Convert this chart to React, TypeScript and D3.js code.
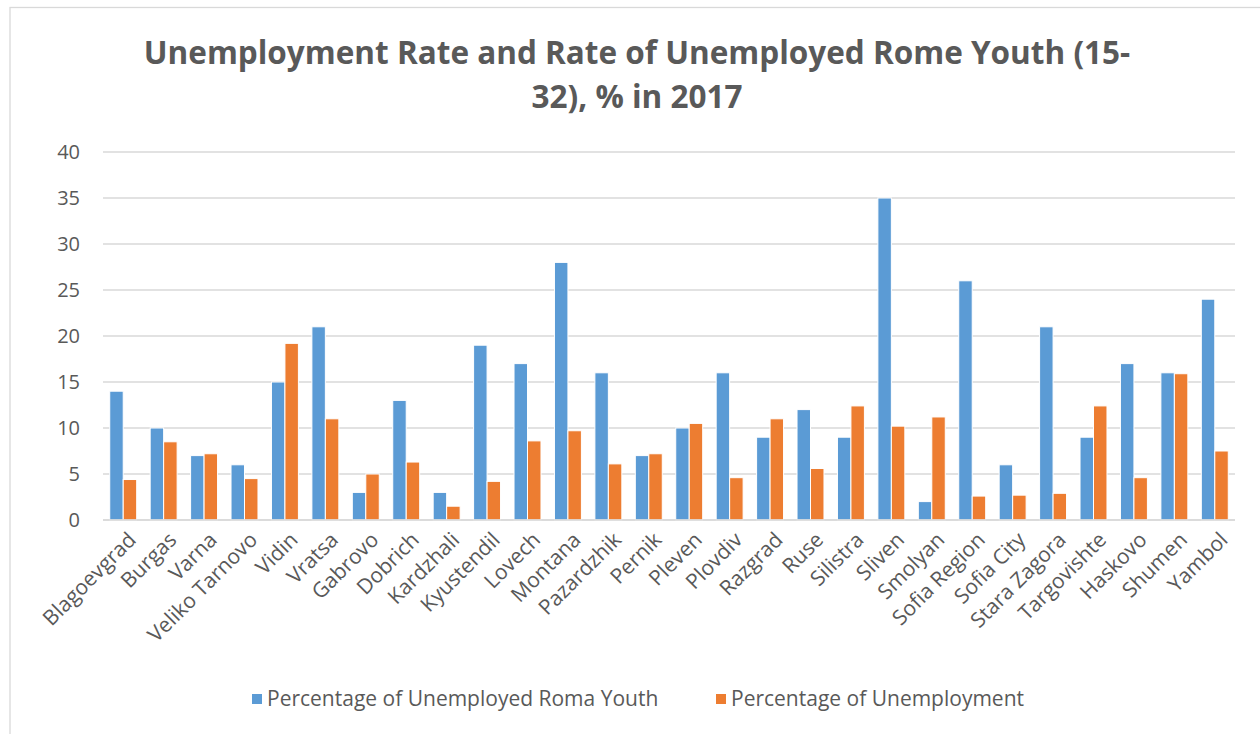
import React from "react";
import * as d3 from "d3";

const categories = [
  "Blagoevgrad", "Burgas", "Varna", "Veliko Tarnovo", "Vidin", "Vratsa", "Gabrovo",
  "Dobrich", "Kardzhali", "Kyustendil", "Lovech", "Montana", "Pazardzhik", "Pernik",
  "Pleven", "Plovdiv", "Razgrad", "Ruse", "Silistra", "Sliven", "Smolyan",
  "Sofia Region", "Sofia City", "Stara Zagora", "Targovishte", "Haskovo", "Shumen", "Yambol",
];
const romaYouth = [14, 10, 7, 6, 15, 21, 3, 13, 3, 19, 17, 28, 16, 7, 10, 16, 9, 12, 9, 35, 2, 26, 6, 21, 9, 17, 16, 24];
const unemployment = [4.4, 8.5, 7.2, 4.5, 19.2, 11.0, 5.0, 6.3, 1.5, 4.2, 8.6, 9.7, 6.1, 7.2, 10.5, 4.6, 11.0, 5.6, 12.4, 10.2, 11.2, 2.6, 2.7, 2.9, 12.4, 4.6, 15.9, 7.5];
const yTicks = [0, 5, 10, 15, 20, 25, 30, 35, 40];
const seriesNames = ["Percentage of Unemployed Roma Youth", "Percentage of Unemployment"];
const colors = ["#5b9bd5", "#ed7d31"];
const titleLines = ["Unemployment Rate and Rate of Unemployed Rome Youth (15-", "32), % in 2017"];

export default function App() {
  const W = 1260, H = 734;
  const left = 103, right = 1235, top = 152, bottom = 520;
  const x = d3.scaleBand<string>().domain(categories).range([left, right]).paddingInner(0).paddingOuter(0);
  const y = d3.scaleLinear().domain([0, 40]).range([bottom, top]);
  const inner = d3.scaleBand<number>().domain([0, 1]).range([0, x.bandwidth()]).paddingInner(0).paddingOuter(0.5);
  const font = "'Open Sans', 'Segoe UI', sans-serif";
  const series = [romaYouth, unemployment];
  const text = "#595959";
  return (
    <svg width={W} height={H} style={{ position: "absolute", left: 0, top: 0 }} fontFamily={font}>
      <rect x={0} y={0} width={W} height={H} fill="#fff" />
      <rect x={10} y={7.5} width={W + 50} height={H + 50} fill="#fff" stroke="#d9d9d9" strokeWidth={1.3} />
      {titleLines.map((t, i) => (
        <text key={i} x={637} y={64 + i * 44} textAnchor="middle" fontSize={31.5} fontWeight="bold" fill={text}>{t}</text>
      ))}
      {yTicks.map((t) => (
        <g key={t}>
          <line x1={left} x2={right} y1={y(t)} y2={y(t)} stroke="#d9d9d9" strokeWidth={1.3} />
          <text x={80} y={y(t)} dy="0.35em" textAnchor="end" fontSize={20} fill={text}>{t}</text>
        </g>
      ))}
      {series.map((vals, si) =>
        vals.map((v, i) => {
          const bx = (x(categories[i]) as number) + (inner(si) as number);
          return (
            <rect key={si + "-" + i} x={bx} y={y(v)} width={inner.bandwidth()} height={y(0) - y(v)}
              fill={colors[si]} stroke="#fff" strokeWidth={1} />
          );
        })
      )}
      <line x1={left} x2={right} y1={bottom} y2={bottom} stroke="#d9d9d9" strokeWidth={1.3} />
      {categories.map((c) => {
        const cx = (x(c) as number) + x.bandwidth() / 2 + 3;
        return (
          <text key={c} transform={`translate(${cx},${530}) rotate(-45)`} textAnchor="end" dy="0.75em" fontSize={21} fill={text}>{c}</text>
        );
      })}
      {seriesNames.map((n, i) => {
        const lx = [252, 716][i];
        return (
          <g key={n}>
            <rect x={lx} y={694} width={10} height={10} fill={colors[i]} />
            <text x={lx + 15} y={699} dy="0.35em" fontSize={21} fill={text}>{n}</text>
          </g>
        );
      })}
    </svg>
  );
}
